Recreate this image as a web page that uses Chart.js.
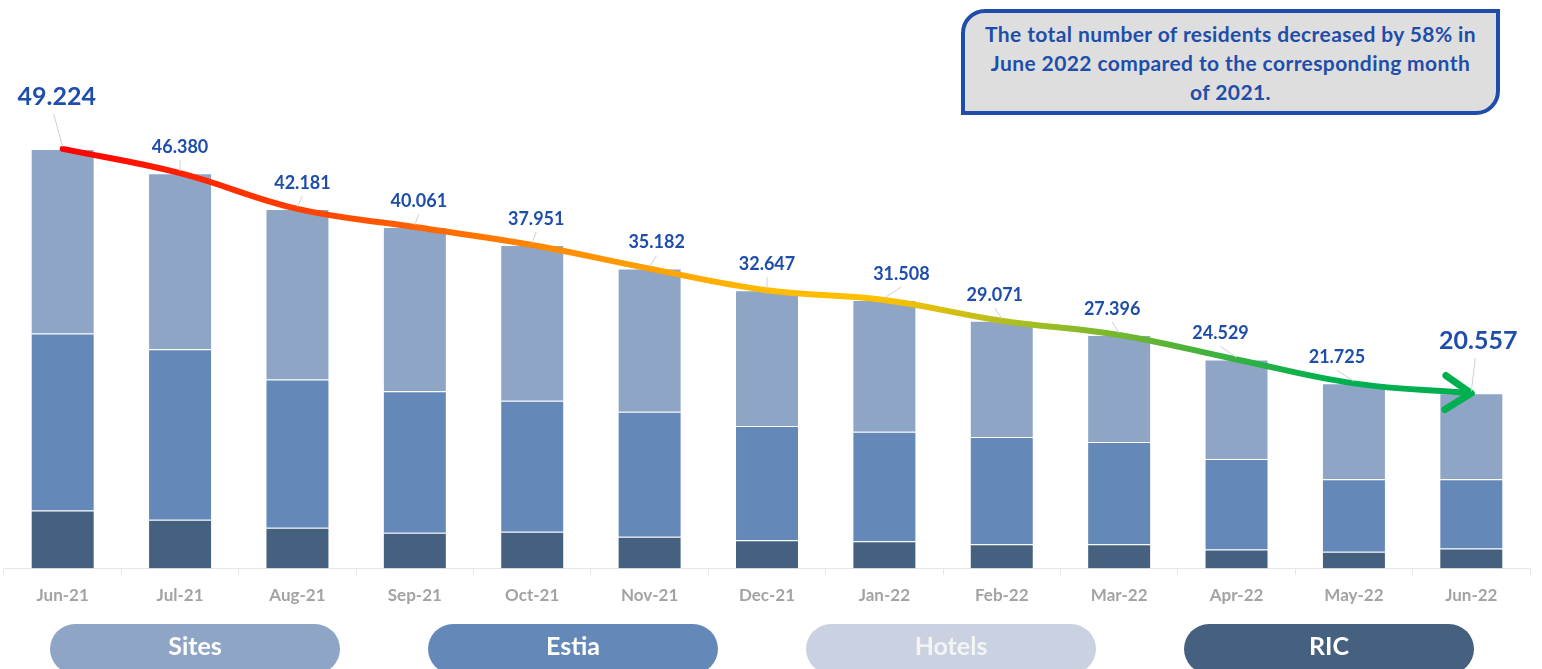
<!DOCTYPE html>
<html>
<head>
<meta charset="utf-8">
<script src="https://cdn.jsdelivr.net/npm/chart.js@4.4.0/dist/chart.umd.min.js"></script>
<style>
  html, body { margin: 0; padding: 0; background: #fff; overflow: hidden; }
  body { width: 1542px; height: 669px; position: relative; font-family: Lato, sans-serif; }
  #chart { position: absolute; left: 0; top: 0; }
  .note {
    position: absolute; left: 961px; top: 9px; width: 539px; height: 106px;
    box-sizing: border-box; border: 4px solid #1F4EAA; border-radius: 24px 0 24px 0;
    background: #DEDEDE; color: #1F4EAA; font-weight: bold; font-size: 21px;
    letter-spacing: 0.4px; line-height: 29px; text-align: center; padding-top: 6px;
  }
  .pill {
    position: absolute; top: 624px; width: 290px; height: 50px; border-radius: 25px;
    color: #fff; font-weight: bold; font-size: 25px; line-height: 42px; text-align: center;
  }
</style>
</head>
<body>
<canvas id="chart" width="1542" height="669"></canvas>
<div class="note">The total number of residents decreased by 58% in<br>June 2022 compared to the corresponding month<br>of 2021.</div>
<div class="pill" style="left:50px; background:#8FA5C5;">Sites</div>
<div class="pill" style="left:428px; background:#6488B8;">Estia</div>
<div class="pill" style="left:806px; background:#CAD1E0; color:#F4F4F4;">Hotels</div>
<div class="pill" style="left:1184px; background:#46607F;">RIC</div>

<script>
const months = ['Jun-21', 'Jul-21', 'Aug-21', 'Sep-21', 'Oct-21', 'Nov-21', 'Dec-21',
                'Jan-22', 'Feb-22', 'Mar-22', 'Apr-22', 'May-22', 'Jun-22'];
const totals = [49224, 46380, 42181, 40061, 37951, 35182, 32647, 31508, 29071, 27396, 24529, 21725, 20557];
const ric    = [6814, 5721, 4781, 4194, 4312, 3724, 3325, 3207, 2855, 2855, 2232, 1962, 2350];
const hotels = [0, 0, 0, 0, 0, 0, 0, 0, 0, 0, 0, 0, 0];
const estia  = [20759, 20007, 17387, 16600, 15366, 14685, 13393, 12852, 12570, 11983, 10609, 8529, 8141];
const sites  = [21651, 20652, 20013, 19267, 18273, 16773, 15929, 15449, 13646, 12558, 11688, 11234, 10066];

// small nudges for the total labels (px), like the hand-placed labels in the original
const labelNudge = [-6, 0, 5, 4, 4, 7, 0, 17, -7, -7, -16, -17, 7];
const BLUE = '#1F4EAA';

function fmt(v) {
  return String(v).replace(/\B(?=(\d{3})+(?!\d))/g, '.');
}

function lineGradient(context) {
  const chart = context.chart;
  if (!chart.chartArea) return '#FF0000';
  const x = chart.scales.x;
  const g = chart.ctx.createLinearGradient(x.getPixelForValue(0), 0, x.getPixelForValue(months.length - 1), 0);
  g.addColorStop(0, '#FF0000');
  g.addColorStop(0.18, '#FF4500');
  g.addColorStop(0.35, '#FF8C00');
  g.addColorStop(0.5, '#FFBB00');
  g.addColorStop(0.58, '#FFC000');
  g.addColorStop(0.68, '#AABE22');
  g.addColorStop(0.8, '#4CB23A');
  g.addColorStop(0.9, '#00B050');
  g.addColorStop(1, '#00B050');
  return g;
}

const totalLabels = {
  id: 'totalLabels',
  afterDatasetsDraw(chart) {
    const ctx = chart.ctx;
    const pts = chart.getDatasetMeta(0).data;
    const last = pts.length - 1;

    // arrow head on the end of the trend line
    const tip = pts[last];
    const prev = pts[last - 1];
    const ang = Math.atan2(tip.y - prev.y, tip.x - prev.x) * 0.35;
    ctx.save();
    ctx.strokeStyle = '#00B050';
    ctx.lineWidth = 7;
    ctx.lineCap = 'round';
    ctx.lineJoin = 'round';
    ctx.beginPath();
    ctx.moveTo(tip.x - 31 * Math.cos(ang - 0.58), tip.y - 31 * Math.sin(ang - 0.58));
    ctx.lineTo(tip.x, tip.y);
    ctx.lineTo(tip.x - 31 * Math.cos(ang + 0.58), tip.y - 31 * Math.sin(ang + 0.58));
    ctx.stroke();
    ctx.restore();

    pts.forEach((p, i) => {
      const big = (i === 0 || i === last);
      const size = big ? 25 : 18;
      const lx = p.x + labelNudge[i];
      const ly = p.y - (big ? 52 : 26);
      ctx.save();
      ctx.strokeStyle = '#D0D0D0';
      ctx.lineWidth = 1;
      ctx.beginPath();
      ctx.moveTo(lx - (big ? 3 : 0), ly + (big ? 17 : 13));
      ctx.lineTo(p.x, p.y - 2);
      ctx.stroke();
      ctx.fillStyle = BLUE;
      ctx.font = 'bold ' + size + 'px Lato';
      ctx.textAlign = 'center';
      ctx.textBaseline = 'middle';
      ctx.fillText(fmt(totals[i]), lx, ly);
      ctx.restore();
    });
  }
};

const barBorder = 'rgba(255,255,255,0.25)';

new Chart(document.getElementById('chart'), {
  type: 'bar',
  data: {
    labels: months,
    datasets: [
      {
        type: 'line',
        label: 'Total',
        data: totals,
        stack: 'total',
        order: 0,
        borderColor: lineGradient,
        borderWidth: 6,
        borderCapStyle: 'round',
        tension: 0.4,
        pointRadius: 0,
        fill: false
      },
      { label: 'RIC', data: ric, backgroundColor: '#46607F', borderColor: barBorder, borderWidth: 1, stack: 'res', order: 1 },
      { label: 'Hotels', data: hotels, backgroundColor: '#CAD1E0', borderWidth: 0, stack: 'res', order: 1 },
      { label: 'Estia', data: estia, backgroundColor: '#6488B8', borderColor: barBorder, borderWidth: 1, stack: 'res', order: 1 },
      { label: 'Sites', data: sites, backgroundColor: '#8FA5C5', borderColor: barBorder, borderWidth: 1, stack: 'res', order: 1 }
    ]
  },
  options: {
    responsive: false,
    animation: false,
    devicePixelRatio: 1,
    categoryPercentage: 1,
    barPercentage: 0.545,
    layout: {
      padding: { left: 4, right: 12, top: 57, bottom: 52 }
    },
    scales: {
      x: {
        stacked: true,
        grid: {
          offset: true,
          drawOnChartArea: false,
          color: '#E6E6E6',
          tickLength: 6
        },
        border: { color: '#E6E6E6' },
        ticks: {
          color: '#A3A3A3',
          padding: 11,
          font: { family: 'Lato', weight: 'bold', size: 17 }
        }
      },
      y: {
        stacked: true,
        display: false,
        min: 0,
        max: 60000
      }
    },
    plugins: {
      legend: { display: false },
      tooltip: { enabled: false }
    }
  },
  plugins: [totalLabels]
});
</script>
</body>
</html>
